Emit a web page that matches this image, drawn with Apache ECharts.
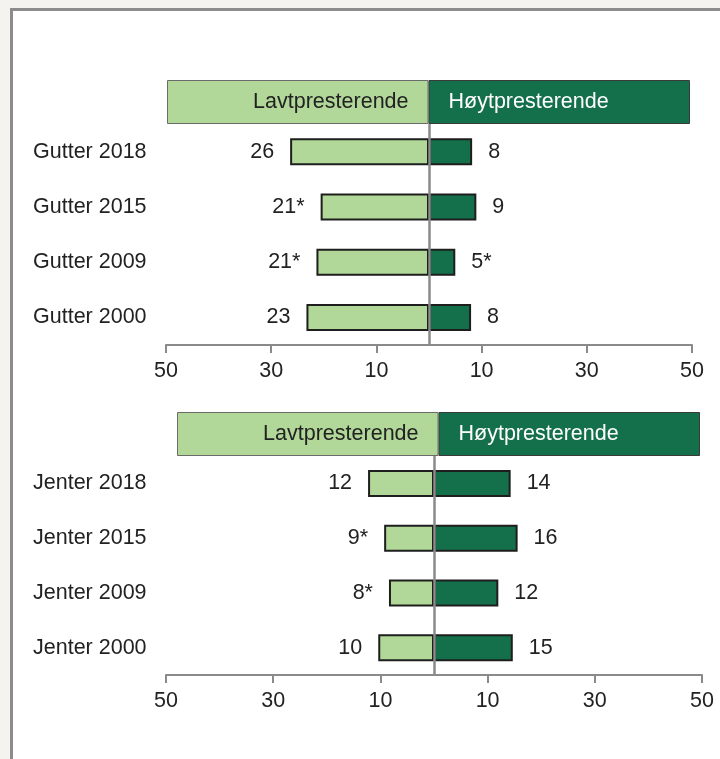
<!DOCTYPE html>
<html>
<head>
<meta charset="utf-8">
<script src="https://cdn.jsdelivr.net/npm/echarts@6/dist/echarts.min.js"></script>
<style>
  html, body { margin: 0; padding: 0; background: #f4f3ef; }
  .frame {
    position: absolute; left: 10px; top: 8px; right: 0; bottom: 0;
    background: #fff; border-left: 3px solid #8c8c8c; border-top: 3px solid #8c8c8c;
  }
  #chart { position: absolute; left: 0; top: 0; width: 720px; height: 759px; }
</style>
</head>
<body>
<div class="frame"></div>
<div id="chart"></div>
<script>
// rows, top to bottom
var gutterYears = ["Gutter 2018", "Gutter 2015", "Gutter 2009", "Gutter 2000"];
var jenterYears = ["Jenter 2018", "Jenter 2015", "Jenter 2009", "Jenter 2000"];

// share of pupils (%)
var gutterLav = [26.4, 20.6, 21.4, 23.3];
var gutterHoy = [8.2, 9.0, 5.0, 8.0];
var jenterLav = [12.3, 9.3, 8.4, 10.4];
var jenterHoy = [14.3, 15.6, 12.0, 14.7];

// * = significant change
var gutterLavStar = [false, true, true, false];
var gutterHoyStar = [false, false, true, false];
var jenterLavStar = [false, true, true, false];
var jenterHoyStar = [false, false, false, false];

var tickValues = [-50, -30, -10, 10, 30, 50];
var headerNames = ["Lavtpresterende", "Høytpresterende"];

var light = "#b1d899";
var dark = "#13704a";
var font = "Liberation Sans, Arial, sans-serif";
var fs = 21.5;

function valueAxis(idx, show) {
  return {
    type: "value",
    gridIndex: idx,
    min: -50,
    max: 50,
    show: show,
    splitLine: { show: false },
    axisLine: { show: true, onZero: false, lineStyle: { color: "#8a8a8a", width: 2 } },
    axisTick: { show: true, length: 8, customValues: tickValues, lineStyle: { color: "#8a8a8a", width: 2 } },
    axisLabel: {
      customValues: tickValues,
      formatter: function (v) { return Math.abs(v); },
      color: "#222", fontSize: fs, fontFamily: font, margin: 15,
    },
  };
}

function rowAxis(idx, cats) {
  return {
    type: "category",
    gridIndex: idx,
    data: cats,
    inverse: true,
    axisLine: { show: false, onZero: false },
    axisTick: { show: false },
    axisLabel: { align: "left", margin: 133, color: "#222", fontSize: fs, fontFamily: font },
  };
}

function headerAxis(idx) {
  return { type: "category", gridIndex: idx, data: ["h"], show: false };
}

function headerSeries(idx) {
  return [
    {
      type: "bar", xAxisIndex: idx, yAxisIndex: idx, stack: "h" + idx, barWidth: "100%",
      silent: true, data: [-50],
      itemStyle: { color: light, borderColor: "#6b6b6b", borderWidth: 1 },
      label: { show: true, position: "insideRight", distance: 20, formatter: headerNames[0],
        color: "#222", fontSize: fs, fontFamily: font },
    },
    {
      type: "bar", xAxisIndex: idx, yAxisIndex: idx, stack: "h" + idx, barWidth: "100%",
      silent: true, data: [50],
      itemStyle: { color: dark, borderColor: "#3a3a3a", borderWidth: 1 },
      label: { show: true, position: "insideLeft", distance: 20, formatter: headerNames[1],
        color: "#fff", fontSize: fs, fontFamily: font },
    },
  ];
}

function barSeries(idx, vals, stars, color, side) {
  return {
    type: "bar", xAxisIndex: idx, yAxisIndex: idx, stack: "s" + idx, barWidth: 27,
    data: vals.map(function (v) { return side * v; }),
    itemStyle: { color: color, borderColor: "#1e1e1e", borderWidth: 2 },
    label: {
      show: true,
      position: side < 0 ? "left" : "right",
      distance: 16,
      color: "#222", fontSize: fs, fontFamily: font,
      formatter: function (p) {
        return Math.round(vals[p.dataIndex]) + (stars[p.dataIndex] ? "*" : "");
      },
    },
  };
}

function zeroLine(s) {
  s.markLine = {
    silent: true,
    symbol: ["none", "none"],
    label: { show: false },
    lineStyle: { color: "#8a8a8a", width: 2.5, type: "solid" },
    data: [{ xAxis: 0 }],
  };
  return s;
}

var chart = echarts.init(document.getElementById("chart"));
var option = {
  animation: false,
  grid: [
    { left: 167, right: 30, top: 80, height: 44 },
    { left: 166, right: 28, top: 124, height: 221 },
    { left: 177, right: 20, top: 412, height: 44 },
    { left: 166, right: 18, top: 456, height: 219 },
  ],
  xAxis: [valueAxis(0, false), valueAxis(1, true), valueAxis(2, false), valueAxis(3, true)],
  yAxis: [headerAxis(0), rowAxis(1, gutterYears), headerAxis(2), rowAxis(3, jenterYears)],
  series: [].concat(
    headerSeries(0),
    [barSeries(1, gutterLav, gutterLavStar, light, -1), zeroLine(barSeries(1, gutterHoy, gutterHoyStar, dark, 1))],
    headerSeries(2),
    [barSeries(3, jenterLav, jenterLavStar, light, -1), zeroLine(barSeries(3, jenterHoy, jenterHoyStar, dark, 1))]
  ),
};
chart.setOption(option);
</script>
</body>
</html>
